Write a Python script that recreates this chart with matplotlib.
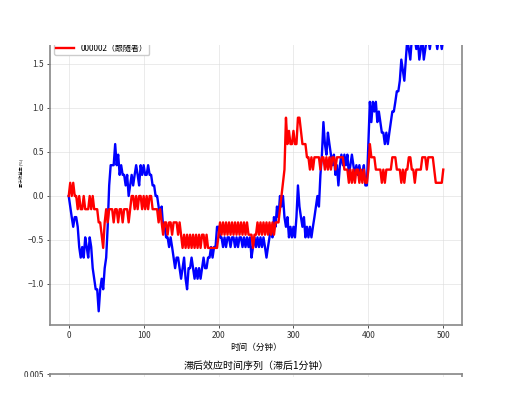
import numpy as np
import matplotlib
matplotlib.use("Agg")
import matplotlib.pyplot as plt
from matplotlib.patches import Rectangle

plt.rcParams['font.family'] = ['Noto Sans CJK SC', 'DejaVu Sans']
plt.rcParams['axes.unicode_minus'] = True

# sampled every 2 minutes, t = 0..500
leader = [
    0.00, -0.12, -0.24, -0.35, -0.24, -0.24, -0.35, -0.58, -0.70, -0.58,
    -0.70, -0.47, -0.58, -0.70, -0.47, -0.58, -0.82, -0.94, -1.06, -1.06,
    -1.31, -1.06, -0.94, -1.06, -0.82, -0.70, -0.35, 0.12, 0.35, 0.35,
    0.35, 0.59, 0.35, 0.47, 0.24, 0.35, 0.24, 0.24, 0.12, 0.24,
    0.00, 0.12, 0.24, 0.12, 0.24, 0.35, 0.24, 0.12, 0.35, 0.24,
    0.35, 0.24, 0.24, 0.35, 0.24, 0.24, 0.12, 0.12, 0.00, 0.00,
    -0.12, -0.24, -0.12, -0.35, -0.35, -0.47, -0.47, -0.58, -0.47, -0.58,
    -0.70, -0.82, -0.70, -0.70, -0.82, -0.94, -0.82, -0.70, -0.94, -1.06,
    -0.82, -0.82, -0.70, -0.82, -0.94, -0.82, -0.94, -0.82, -0.94, -0.82,
    -0.70, -0.82, -0.82, -0.70, -0.70, -0.58, -0.70, -0.58, -0.58, -0.35,
    -0.35, -0.47, -0.47, -0.58, -0.47, -0.58, -0.47, -0.47, -0.58, -0.47,
    -0.47, -0.58, -0.47, -0.58, -0.47, -0.47, -0.58, -0.47, -0.58, -0.47,
    -0.58, -0.47, -0.70, -0.58, -0.47, -0.58, -0.47, -0.58, -0.47, -0.58,
    -0.47, -0.58, -0.70, -0.58, -0.47, -0.35, -0.47, -0.24, -0.35, -0.12,
    -0.24, 0.00, -0.12, 0.00, -0.24, -0.35, -0.24, -0.47, -0.35, -0.47,
    -0.35, -0.47, -0.24, 0.12, -0.12, -0.24, -0.35, -0.24, -0.47, -0.35,
    -0.47, -0.35, -0.47, -0.35, -0.24, -0.12, 0.00, -0.12, 0.24, 0.47,
    0.84, 0.59, 0.47, 0.72, 0.59, 0.47, 0.35, 0.47, 0.24, 0.35,
    0.12, 0.35, 0.47, 0.35, 0.47, 0.35, 0.47, 0.24, 0.35, 0.47,
    0.35, 0.24, 0.35, 0.24, 0.35, 0.24, 0.24, 0.35, 0.12, 0.12,
    0.59, 1.07, 0.84, 1.07, 0.96, 1.07, 0.84, 0.96, 0.84, 0.72,
    0.72, 0.59, 0.72, 0.59, 0.72, 0.84, 0.96, 0.96, 1.07, 1.19,
    1.19, 1.31, 1.55, 1.43, 1.31, 1.55, 1.79, 1.67, 1.55, 1.79,
    1.79, 1.79, 1.67, 1.79, 1.55, 1.67, 1.79, 1.55, 1.67, 1.79,
    1.79, 1.67, 1.79, 1.79, 1.79, 1.79, 1.67, 1.79, 1.79, 1.67,
    1.79,
]

follower = [
    0.00, 0.15, 0.00, 0.15, 0.00, 0.00, -0.15, 0.00, -0.15, -0.15,
    0.00, -0.15, -0.15, -0.15, 0.00, -0.15, 0.00, -0.15, -0.15, -0.15,
    -0.30, -0.30, -0.44, -0.59, -0.30, -0.15, -0.30, -0.15, -0.15, -0.15,
    -0.30, -0.15, -0.15, -0.30, -0.15, -0.15, -0.30, -0.15, -0.15, -0.15,
    -0.30, -0.15, 0.00, 0.00, -0.15, 0.00, -0.15, 0.00, 0.00, -0.15,
    0.00, -0.15, 0.00, -0.15, 0.00, 0.00, -0.15, -0.15, -0.15, -0.15,
    -0.30, -0.15, -0.30, -0.44, -0.30, -0.30, -0.44, -0.30, -0.30, -0.44,
    -0.30, -0.30, -0.30, -0.44, -0.30, -0.44, -0.59, -0.44, -0.59, -0.44,
    -0.59, -0.44, -0.59, -0.44, -0.59, -0.44, -0.59, -0.44, -0.59, -0.44,
    -0.44, -0.59, -0.44, -0.59, -0.59, -0.59, -0.59, -0.59, -0.59, -0.59,
    -0.44, -0.30, -0.44, -0.30, -0.44, -0.30, -0.44, -0.30, -0.44, -0.30,
    -0.44, -0.30, -0.44, -0.30, -0.44, -0.30, -0.44, -0.30, -0.44, -0.30,
    -0.44, -0.44, -0.44, -0.59, -0.44, -0.44, -0.30, -0.44, -0.30, -0.44,
    -0.30, -0.44, -0.30, -0.44, -0.30, -0.44, -0.30, -0.44, -0.30, -0.30,
    -0.30, -0.15, 0.00, 0.15, 0.30, 0.89, 0.59, 0.74, 0.59, 0.59,
    0.74, 0.59, 0.59, 0.89, 0.89, 0.74, 0.59, 0.59, 0.59, 0.44,
    0.44, 0.30, 0.44, 0.30, 0.44, 0.44, 0.44, 0.44, 0.30, 0.44,
    0.44, 0.30, 0.44, 0.30, 0.44, 0.30, 0.44, 0.44, 0.30, 0.44,
    0.44, 0.44, 0.44, 0.44, 0.30, 0.30, 0.30, 0.15, 0.30, 0.15,
    0.30, 0.15, 0.30, 0.30, 0.15, 0.30, 0.15, 0.30, 0.15, 0.15,
    0.30, 0.59, 0.44, 0.44, 0.44, 0.30, 0.30, 0.30, 0.30, 0.15,
    0.30, 0.15, 0.30, 0.30, 0.30, 0.30, 0.44, 0.44, 0.44, 0.30,
    0.30, 0.30, 0.15, 0.30, 0.15, 0.30, 0.30, 0.44, 0.44, 0.30,
    0.30, 0.15, 0.30, 0.30, 0.30, 0.30, 0.44, 0.44, 0.44, 0.30,
    0.44, 0.44, 0.44, 0.44, 0.30, 0.15, 0.15, 0.15, 0.15, 0.15,
    0.30,
]

minutes = np.arange(len(leader)) * 2
minutes_f = np.arange(len(follower)) * 2

W, H = 510, 396
fig = plt.figure(figsize=(W / 100, H / 100), dpi=100)

# main axes (its top part is hidden by the crop strip)
ax = fig.add_axes([50 / W, (H - 325) / H, 412 / W, (325 - 20) / H])
ax.plot(minutes, leader, color='blue', lw=1.7, label='000001（领导者）')
ax.plot(minutes_f, follower, color='red', lw=1.7, label='000002（跟随者）')
ax.set_xlim(-25, 525)
ax.set_ylim(-1.466, 2.0)
ax.set_yticks([-1.0, -0.5, 0.0, 0.5, 1.0, 1.5])
ax.set_xticks([0, 100, 200, 300, 400, 500])
ax.grid(True, color='#dddddd', lw=0.6, alpha=0.7)
ax.tick_params(labelsize=6, length=2.5, width=0.6, colors='#333333', pad=2)
ax.set_xlabel('时间（分钟）', fontsize=6.2, labelpad=2)
ax.set_ylabel('累计收益率 (%)', fontsize=3, labelpad=3)
for s in ax.spines.values():
    s.set_color('#888888')
    s.set_linewidth(1.2)
ax.legend(loc='lower left', bbox_to_anchor=(4 / 412, (325 - 55) / 305),
          borderaxespad=0, borderpad=0.25, fontsize=5.8, framealpha=1,
          edgecolor='#cccccc', fancybox=True, handlelength=2.2)

# second axes, only its title and top edge show
ax2 = fig.add_axes([50 / W, -0.3, 412 / W, 0.3 + (H - 374) / H])
ax2.set_xlim(-25, 525)
ax2.set_ylim(-0.005, 0.005)
ax2.set_yticks([0.005])
ax2.set_yticklabels(['0.005'])
ax2.set_xticks([0, 100, 200, 300, 400, 500])
ax2.grid(True, color='#dddddd', lw=0.6, alpha=0.7)
ax2.tick_params(labelsize=6, length=2.5, width=0.6, colors='#333333', pad=2,
                labelbottom=False)
ax2.set_title('滞后效应时间序列（滞后1分钟）', fontsize=7.2, pad=3.5)
for s in ax2.spines.values():
    s.set_color('#888888')
    s.set_linewidth(1.2)

# white strips: the reference is a cropped window
fig.add_artist(Rectangle((0, (H - 45) / H), 1, 45 / H, transform=fig.transFigure,
                         facecolor='white', edgecolor='none', zorder=20))
fig.add_artist(Rectangle((0, 0), 1, (H - 377) / H, transform=fig.transFigure,
                         facecolor='white', edgecolor='none', zorder=20))

fig.savefig('out.png', dpi=100)
